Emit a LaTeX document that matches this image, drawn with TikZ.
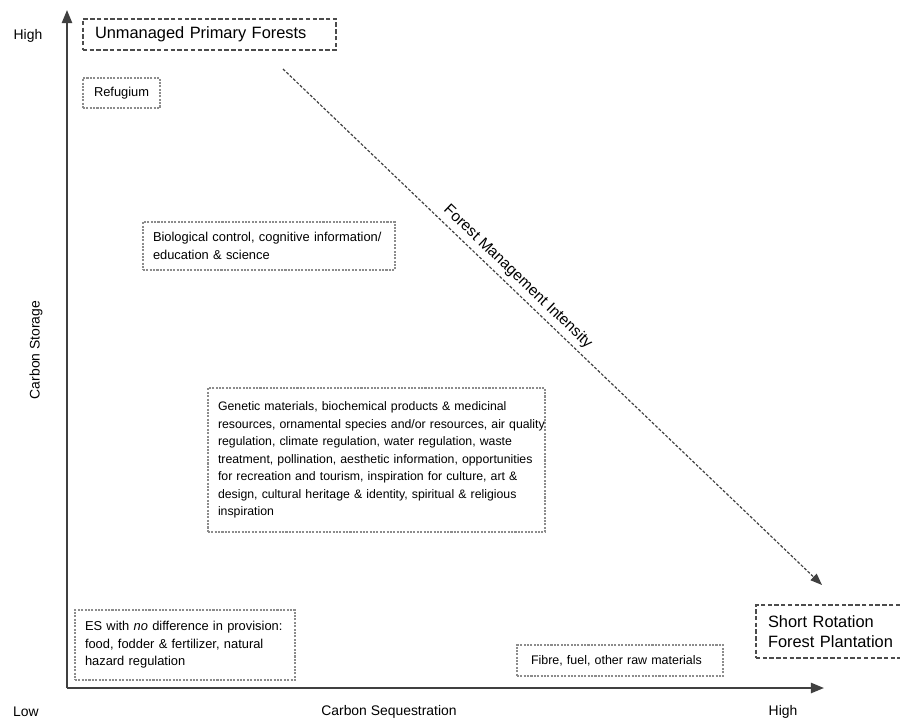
\documentclass[tikz,border=0pt]{standalone}
\usepackage{fontspec}
\setmainfont{Liberation Sans}
\usetikzlibrary{arrows.meta}
\begin{document}
\begin{tikzpicture}[x=0.024cm,y=-0.024cm,
  axis/.style={line width=1.4pt, draw=black!75, -{Triangle[length=9pt,width=7pt]}},
  lbl/.style={font=\fontsize{9.5}{11}\selectfont, inner sep=0pt},
  bigbox/.style={draw=black!70, line width=0.9pt, dash pattern=on 3pt off 1.6pt, inner ysep=0pt, inner xsep=12*0.024cm, font=\fontsize{11.2}{13.5}\selectfont, align=left},
  smallbox/.style={draw=black!45, line width=0.8pt, dash pattern=on 1.4pt off 0.9pt, inner ysep=0pt, inner xsep=10*0.024cm, font=\fontsize{8.8}{12}\selectfont, align=left},
  mgmt/.style={draw=black!75, line width=0.8pt, dash pattern=on 2pt off 1.2pt, -{Triangle[length=8pt,width=6pt]}}
]
\useasboundingbox (0,0) rectangle (900,722);
% axes
\coordinate (O) at (67,688);
\coordinate (ytop) at (67,10);
\coordinate (xend) at (824,688);
\draw[axis] (O) -- (ytop);
\draw[axis] (O) -- (xend);
% axis labels
\node[lbl] (hy) at (28,36) {High};
\node[lbl] (lo) at (26,712) {Low};
\node[lbl] (cs) at (389,712) {Carbon Sequestration};
\node[lbl] (hx) at (783,712) {High};
\node[lbl, rotate=90] (cst) at (36,350) {Carbon Storage};
% boxes
\node[bigbox, minimum width=253*0.024cm, minimum height=31*0.024cm, text width=229*0.024cm] (upf) at (209.5,34.5) {Unmanaged Primary Forests};
\node[bigbox, minimum width=160*0.024cm, minimum height=53*0.024cm, text width=136*0.024cm] (srf) at (836,631.5) {Short Rotation\\Forest Plantation};
\node[smallbox, inner xsep=11*0.024cm, minimum width=77*0.024cm, minimum height=30*0.024cm, text width=55*0.024cm] (ref) at (121.5,93) {Refugium};
\node[smallbox, minimum width=252*0.024cm, minimum height=48*0.024cm, text width=232*0.024cm] (bio) at (269,246) {\mbox{Biological control, cognitive information/}\\education \& science};
\node[smallbox, font=\fontsize{8.4}{12}\selectfont, minimum width=337*0.024cm, minimum height=144*0.024cm, text width=317*0.024cm] (gen) at (376.5,460) {\mbox{Genetic materials, biochemical products \& medicinal}\\\mbox{resources, ornamental species and/or resources, air quality}\\\mbox{regulation, climate regulation, water regulation, waste}\\\mbox{treatment, pollination, aesthetic information, opportunities}\\\mbox{for recreation and tourism, inspiration for culture, art \&}\\\mbox{design, cultural heritage \& identity, spiritual \& religious}\\inspiration};
\node[smallbox, minimum width=220*0.024cm, minimum height=70*0.024cm, text width=200*0.024cm] (es) at (185,645) {\mbox{ES with \textit{no} difference in provision:}\\food, fodder \& fertilizer, natural\\hazard regulation};
\node[smallbox, font=\fontsize{8.5}{12}\selectfont, inner xsep=14*0.024cm, minimum width=206*0.024cm, minimum height=31*0.024cm, text width=178*0.024cm] (fib) at (620,660.5) {\mbox{Fibre, fuel, other raw materials}};
% management arrow
\coordinate (ms) at (283,69);
\coordinate (me) at (822,585);
\draw[mgmt] (ms) -- node[pos=0.42, sloped, above, font=\fontsize{10.5}{12}\selectfont, inner sep=3pt] (fmi) {Forest Management Intensity} (me);
\end{tikzpicture}
\end{document}
